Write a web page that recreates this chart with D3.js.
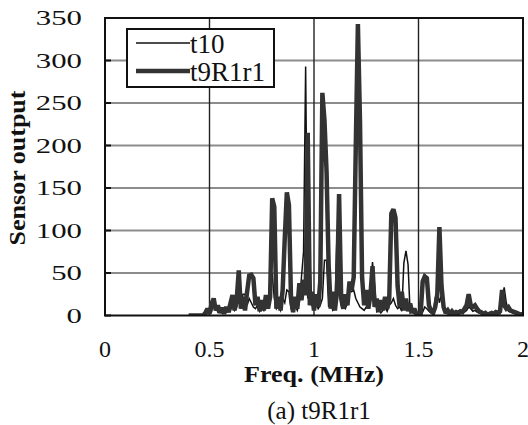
<!DOCTYPE html>
<html>
<head>
<meta charset="utf-8">
<script src="https://cdnjs.cloudflare.com/ajax/libs/d3/7.8.5/d3.min.js"></script>
<style>
  body { margin: 0; background: #fff; }
  svg { display: block; }
  text { font-family: "Liberation Serif", serif; fill: #111; }
</style>
</head>
<body>
<svg id="chart" width="528" height="425" font-family="Liberation Serif"></svg>
<script>
// frequency grid (MHz), 0.40 .. 2.00 in 0.01 steps
const freq = d3.range(0, 161).map(i => +(0.40 + i * 0.01).toFixed(2));

// thin trace
const t10 = [
  0, 0, 0, 0, 0, 0, 0, 0, 2, 4,
  8, 5, 15, 10, 4, 6, 3, 5, 4, 8,
  5, 15, 6, 10, 20, 8, 25, 25, 12, 20,
  15, 10, 8, 12, 5, 10, 6, 14, 10, 45,
  48, 20, 8, 12, 6, 20, 15, 30, 28, 8,
  5, 12, 6, 15, 45, 75, 293, 20, 65, 12,
  10, 15, 8, 12, 20, 65, 65, 10, 15, 6,
  8, 95, 110, 12, 10, 8, 15, 30, 28, 30,
  20, 15, 10, 8, 6, 10, 12, 30, 63, 35,
  5, 8, 3, 6, 10, 5, 12, 15, 20, 12,
  8, 10, 5, 62, 76, 60, 3, 5, 2, 1,
  0, 1, 4, 10, 8, 5, 3, 2, 20, 30,
  15, 25, 10, 4, 2, 1, 2, 1, 2, 1,
  2, 3, 4, 6, 10, 8, 5, 6, 4, 3,
  2, 1, 2, 1, 1, 2, 1, 2, 3, 2,
  20, 33, 15, 5, 4, 3, 2, 2, 1, 1,
  1
];

// thick trace
const t9R1r1 = [
  0, 0, 0, 0, 0, 0, 0, 0, 3, 8,
  2, 14, 20, 6, 12, 3, 9, 2, 10, 4,
  14, 24, 6, 18, 53, 8, 22, 6, 28, 47,
  48, 44, 12, 22, 5, 18, 6, 24, 8, 22,
  138, 128, 8, 22, 6, 30, 90, 145, 130, 20,
  4, 22, 8, 38, 18, 42, 24, 215, 12, 28,
  6, 25, 10, 40, 262, 230, 170, 60, 8, 28,
  6, 28, 143, 20, 8, 25, 12, 40, 30, 45,
  200, 343, 230, 45, 12, 30, 8, 24, 58, 10,
  20, 4, 18, 6, 22, 8, 20, 120, 125, 115,
  35, 10, 28, 6, 20, 5, 14, 3, 8, 2,
  0, 2, 40, 46, 44, 12, 5, 3, 10, 25,
  104, 35, 10, 3, 6, 2, 5, 2, 4, 3,
  5, 4, 8, 12, 25, 12, 10, 12, 8, 5,
  4, 2, 3, 1, 2, 3, 2, 4, 3, 5,
  30, 12, 8, 10, 6, 5, 4, 3, 2, 1,
  2
];

const xTicks = [0, 0.5, 1, 1.5, 2];
const yTicks = [0, 50, 100, 150, 200, 250, 300, 350];
const seriesNames = ["t10", "t9R1r1"];

const width = 528, height = 425;
const margin = { top: 18, right: 5, bottom: 109.5, left: 105 };

const svg = d3.select("#chart");

const x = d3.scaleLinear().domain([0, 2]).range([margin.left, width - margin.right]);
const y = d3.scaleLinear().domain([0, 350]).range([height - margin.bottom, margin.top]);

// grid lines
svg.append("g")
  .selectAll("line")
  .data(yTicks.slice(1, -1))
  .join("line")
  .attr("x1", x(0)).attr("x2", x(2))
  .attr("y1", d => y(d)).attr("y2", d => y(d))
  .attr("stroke", "#8c8c8c")
  .attr("stroke-width", 2);

svg.append("g")
  .selectAll("line")
  .data(xTicks.slice(1, -1))
  .join("line")
  .attr("x1", d => x(d)).attr("x2", d => x(d))
  .attr("y1", y(0)).attr("y2", y(350))
  .attr("stroke", "#222")
  .attr("stroke-width", 1.4);

// small inward ticks on the left axis
svg.append("g")
  .selectAll("line")
  .data(yTicks)
  .join("line")
  .attr("x1", x(0)).attr("x2", x(0) + 6)
  .attr("y1", d => y(d)).attr("y2", d => y(d))
  .attr("stroke", "#111")
  .attr("stroke-width", 2);

// traces
svg.append("clipPath").attr("id", "plot-clip")
  .append("rect")
  .attr("x", x(0)).attr("y", y(350))
  .attr("width", x(2) - x(0)).attr("height", y(0) - y(350));

const line = d3.line()
  .x((d, i) => x(freq[i]))
  .y(d => y(d));

const traces = svg.append("g").attr("clip-path", "url(#plot-clip)");

traces.append("path")
  .datum(t10)
  .attr("d", line)
  .attr("fill", "none")
  .attr("stroke", "#111")
  .attr("stroke-width", 1.5)
  .attr("stroke-linejoin", "miter");

traces.append("path")
  .datum(t9R1r1)
  .attr("d", line)
  .attr("fill", "none")
  .attr("stroke", "#333")
  .attr("stroke-width", 4.5)
  .attr("stroke-linejoin", "miter")
  .attr("stroke-miterlimit", 2);

// frame
svg.append("rect")
  .attr("x", x(0)).attr("y", y(350))
  .attr("width", x(2) - x(0)).attr("height", y(0) - y(350))
  .attr("fill", "none")
  .attr("stroke", "#111")
  .attr("stroke-width", 2);

// tick labels
svg.append("g")
  .selectAll("text")
  .data(yTicks)
  .join("text")
  .attr("transform", d => "translate(82," + (y(d) + 7) + ") scale(1.4,1)")
  .attr("text-anchor", "end")
  .style("font-size", "22px")
  .text(d => d);

svg.append("g")
  .selectAll("text")
  .data(xTicks)
  .join("text")
  .attr("x", d => x(d))
  .attr("y", 357)
  .attr("text-anchor", "middle")
  .style("font-size", "24px")
  .text(d => d);

// axis titles
svg.append("text")
  .attr("x", 314).attr("y", 382)
  .attr("text-anchor", "middle")
  .attr("textLength", 140)
  .attr("lengthAdjust", "spacingAndGlyphs")
  .style("font-size", "23px")
  .style("font-weight", "bold")
  .text("Freq. (MHz)");

svg.append("text")
  .attr("transform", "translate(25,168) rotate(-90)")
  .attr("text-anchor", "middle")
  .attr("textLength", 155)
  .attr("lengthAdjust", "spacingAndGlyphs")
  .style("font-size", "23px")
  .style("font-weight", "bold")
  .text("Sensor output");

svg.append("text")
  .attr("x", 319).attr("y", 419)
  .attr("text-anchor", "middle")
  .style("font-size", "25px")
  .text("(a) t9R1r1");

// legend
const legend = svg.append("g");
legend.append("rect")
  .attr("x", 127).attr("y", 29)
  .attr("width", 147).attr("height", 58)
  .attr("fill", "#fff")
  .attr("stroke", "#111")
  .attr("stroke-width", 2);

const legendRows = legend.selectAll("g")
  .data(seriesNames)
  .join("g")
  .attr("transform", (d, i) => "translate(0," + (i === 0 ? 43 : 71) + ")");

legendRows.append("line")
  .attr("x1", 136).attr("x2", 190)
  .attr("y1", 0).attr("y2", 0)
  .attr("stroke", (d, i) => i === 0 ? "#111" : "#333")
  .attr("stroke-width", (d, i) => i === 0 ? 1.5 : 4.5);

legendRows.append("text")
  .attr("x", 190)
  .attr("y", 10)
  .style("font-size", "27px")
  .text(d => d);
</script>
</body>
</html>
